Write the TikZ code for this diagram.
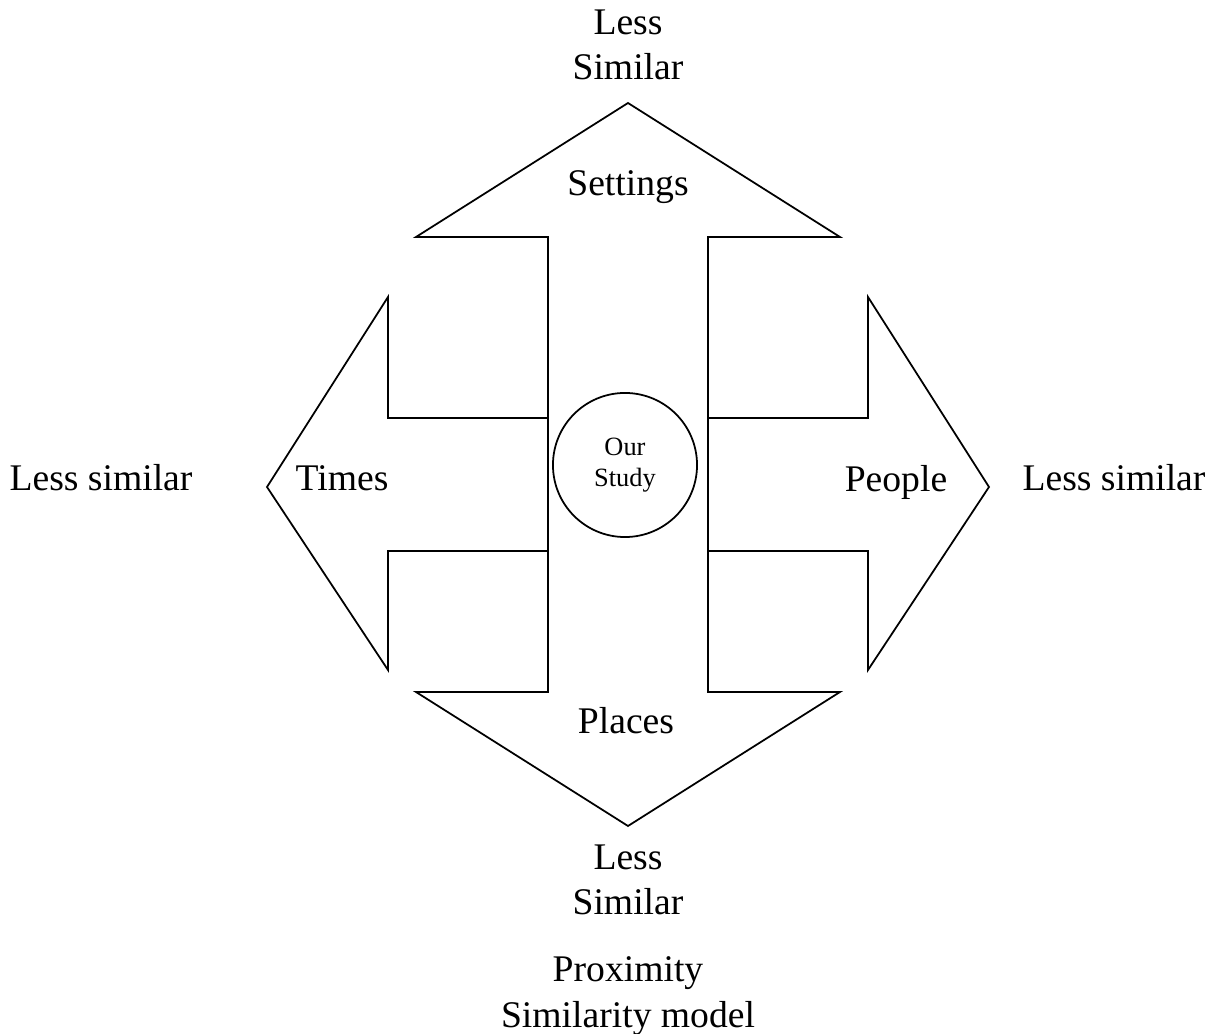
\documentclass[tikz,border=0pt]{standalone}
\usepackage{fontspec}
\setmainfont{Liberation Serif}
\usetikzlibrary{positioning}

\begin{document}
\begin{tikzpicture}[x=0.01cm,y=-0.01cm,line width=0.5pt,
		lbl/.style={font=\fontsize{10.7}{13}\selectfont,align=center,inner sep=0pt},
		small/.style={font=\fontsize{7.5}{9}\selectfont,align=center,inner sep=0pt}]
			\useasboundingbox (0,0) rectangle (1211,1034);
			% vertical double arrow
			\draw (628,103) -- (840,237) -- (708,237) -- (708,692) -- (840,692) -- (628,826)
			-- (416,692) -- (548,692) -- (548,237) -- (416,237) -- cycle;
			% left and right arrows
			\draw (548,418) -- (388,418) -- (388,297) -- (267,487) -- (388,670) -- (388,551) -- (548,551);
			\draw (708,418) -- (868,418) -- (868,297) -- (989,487) -- (868,670) -- (868,551) -- (708,551);
			\node[draw,circle,minimum size=1.44cm,small] (study) at (625,465) {Our\\Study};
			\node[lbl] (settings) at (628,187) {Settings};
			\node[lbl] (places) at (626,721) {Places};
			\node[lbl] (times) at (342,478) {Times};
			\node[lbl] (people) at (896,482) {People};
			\node[lbl] (top) at (628,45) {Less\\Similar};
			\node[lbl] (bottom) at (628,880) {Less\\Similar};
			\node[lbl] (left) at (101,478) {Less similar};
			\node[lbl] (right) at (1114,478) {Less similar};
			\node[lbl] (model) at (628,996) {Proximity\\Similarity model};
		\end{tikzpicture}
\end{document}
